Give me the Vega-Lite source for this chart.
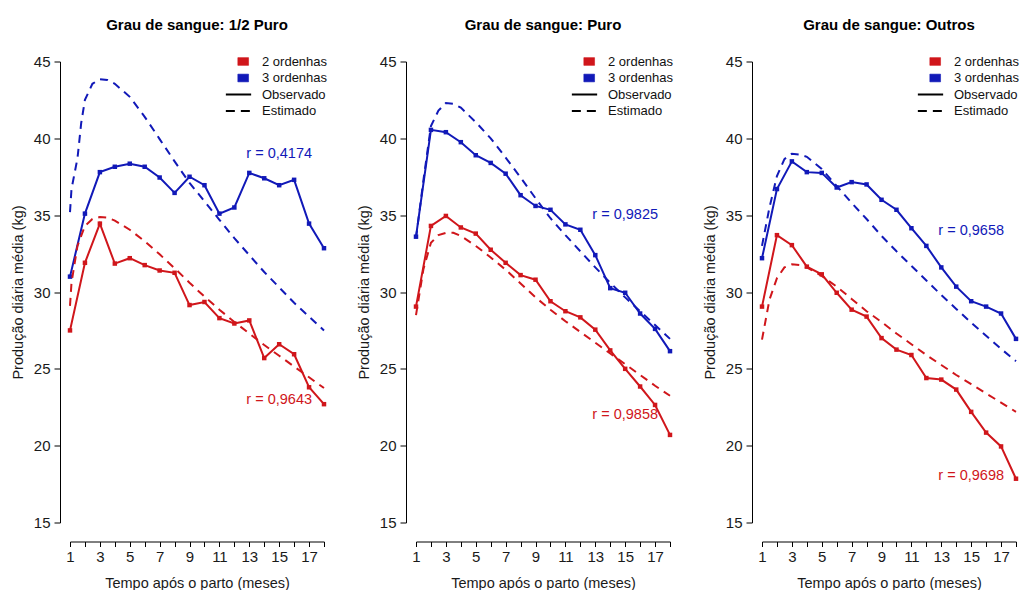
{
  "$schema": "https://vega.github.io/schema/vega-lite/v6.json",
  "background": "white",
  "padding": {"left": 10, "top": 17.5, "right": 0, "bottom": 0},
  "spacing": 92,
  "bounds": "flush",
  "data": {"name": "curvas"},
  "datasets": {
    "curvas": [
      {"grau": "1/2 Puro", "ordenhas": "2 ordenhas", "tipo": "Observado", "mes": 1, "valor": 27.5},
      {"grau": "1/2 Puro", "ordenhas": "2 ordenhas", "tipo": "Observado", "mes": 2, "valor": 31.9},
      {"grau": "1/2 Puro", "ordenhas": "2 ordenhas", "tipo": "Observado", "mes": 3, "valor": 34.45},
      {"grau": "1/2 Puro", "ordenhas": "2 ordenhas", "tipo": "Observado", "mes": 4, "valor": 31.85},
      {"grau": "1/2 Puro", "ordenhas": "2 ordenhas", "tipo": "Observado", "mes": 5, "valor": 32.2},
      {"grau": "1/2 Puro", "ordenhas": "2 ordenhas", "tipo": "Observado", "mes": 6, "valor": 31.75},
      {"grau": "1/2 Puro", "ordenhas": "2 ordenhas", "tipo": "Observado", "mes": 7, "valor": 31.4},
      {"grau": "1/2 Puro", "ordenhas": "2 ordenhas", "tipo": "Observado", "mes": 8, "valor": 31.25},
      {"grau": "1/2 Puro", "ordenhas": "2 ordenhas", "tipo": "Observado", "mes": 9, "valor": 29.15},
      {"grau": "1/2 Puro", "ordenhas": "2 ordenhas", "tipo": "Observado", "mes": 10, "valor": 29.35},
      {"grau": "1/2 Puro", "ordenhas": "2 ordenhas", "tipo": "Observado", "mes": 11, "valor": 28.3},
      {"grau": "1/2 Puro", "ordenhas": "2 ordenhas", "tipo": "Observado", "mes": 12, "valor": 27.95},
      {"grau": "1/2 Puro", "ordenhas": "2 ordenhas", "tipo": "Observado", "mes": 13, "valor": 28.15},
      {"grau": "1/2 Puro", "ordenhas": "2 ordenhas", "tipo": "Observado", "mes": 14, "valor": 25.7},
      {"grau": "1/2 Puro", "ordenhas": "2 ordenhas", "tipo": "Observado", "mes": 15, "valor": 26.6},
      {"grau": "1/2 Puro", "ordenhas": "2 ordenhas", "tipo": "Observado", "mes": 16, "valor": 25.95},
      {"grau": "1/2 Puro", "ordenhas": "2 ordenhas", "tipo": "Observado", "mes": 17, "valor": 23.8},
      {"grau": "1/2 Puro", "ordenhas": "2 ordenhas", "tipo": "Observado", "mes": 18, "valor": 22.7},
      {"grau": "1/2 Puro", "ordenhas": "3 ordenhas", "tipo": "Observado", "mes": 1, "valor": 31.0},
      {"grau": "1/2 Puro", "ordenhas": "3 ordenhas", "tipo": "Observado", "mes": 2, "valor": 35.1},
      {"grau": "1/2 Puro", "ordenhas": "3 ordenhas", "tipo": "Observado", "mes": 3, "valor": 37.8},
      {"grau": "1/2 Puro", "ordenhas": "3 ordenhas", "tipo": "Observado", "mes": 4, "valor": 38.15},
      {"grau": "1/2 Puro", "ordenhas": "3 ordenhas", "tipo": "Observado", "mes": 5, "valor": 38.35},
      {"grau": "1/2 Puro", "ordenhas": "3 ordenhas", "tipo": "Observado", "mes": 6, "valor": 38.15},
      {"grau": "1/2 Puro", "ordenhas": "3 ordenhas", "tipo": "Observado", "mes": 7, "valor": 37.45},
      {"grau": "1/2 Puro", "ordenhas": "3 ordenhas", "tipo": "Observado", "mes": 8, "valor": 36.45},
      {"grau": "1/2 Puro", "ordenhas": "3 ordenhas", "tipo": "Observado", "mes": 9, "valor": 37.5},
      {"grau": "1/2 Puro", "ordenhas": "3 ordenhas", "tipo": "Observado", "mes": 10, "valor": 36.95},
      {"grau": "1/2 Puro", "ordenhas": "3 ordenhas", "tipo": "Observado", "mes": 11, "valor": 35.1},
      {"grau": "1/2 Puro", "ordenhas": "3 ordenhas", "tipo": "Observado", "mes": 12, "valor": 35.5},
      {"grau": "1/2 Puro", "ordenhas": "3 ordenhas", "tipo": "Observado", "mes": 13, "valor": 37.75},
      {"grau": "1/2 Puro", "ordenhas": "3 ordenhas", "tipo": "Observado", "mes": 14, "valor": 37.4},
      {"grau": "1/2 Puro", "ordenhas": "3 ordenhas", "tipo": "Observado", "mes": 15, "valor": 36.95},
      {"grau": "1/2 Puro", "ordenhas": "3 ordenhas", "tipo": "Observado", "mes": 16, "valor": 37.3},
      {"grau": "1/2 Puro", "ordenhas": "3 ordenhas", "tipo": "Observado", "mes": 17, "valor": 34.45},
      {"grau": "1/2 Puro", "ordenhas": "3 ordenhas", "tipo": "Observado", "mes": 18, "valor": 32.85},
      {"grau": "1/2 Puro", "ordenhas": "2 ordenhas", "tipo": "Estimado", "mes": 1, "valor": 29.1},
      {"grau": "1/2 Puro", "ordenhas": "2 ordenhas", "tipo": "Estimado", "mes": 1.1, "valor": 30.6},
      {"grau": "1/2 Puro", "ordenhas": "2 ordenhas", "tipo": "Estimado", "mes": 1.5, "valor": 33.0},
      {"grau": "1/2 Puro", "ordenhas": "2 ordenhas", "tipo": "Estimado", "mes": 2, "valor": 34.3},
      {"grau": "1/2 Puro", "ordenhas": "2 ordenhas", "tipo": "Estimado", "mes": 2.5, "valor": 34.75},
      {"grau": "1/2 Puro", "ordenhas": "2 ordenhas", "tipo": "Estimado", "mes": 3, "valor": 34.88},
      {"grau": "1/2 Puro", "ordenhas": "2 ordenhas", "tipo": "Estimado", "mes": 3.5, "valor": 34.85},
      {"grau": "1/2 Puro", "ordenhas": "2 ordenhas", "tipo": "Estimado", "mes": 4, "valor": 34.65},
      {"grau": "1/2 Puro", "ordenhas": "2 ordenhas", "tipo": "Estimado", "mes": 5, "valor": 34.05},
      {"grau": "1/2 Puro", "ordenhas": "2 ordenhas", "tipo": "Estimado", "mes": 6, "valor": 33.3},
      {"grau": "1/2 Puro", "ordenhas": "2 ordenhas", "tipo": "Estimado", "mes": 7, "valor": 32.45},
      {"grau": "1/2 Puro", "ordenhas": "2 ordenhas", "tipo": "Estimado", "mes": 8, "valor": 31.55},
      {"grau": "1/2 Puro", "ordenhas": "2 ordenhas", "tipo": "Estimado", "mes": 9, "valor": 30.6},
      {"grau": "1/2 Puro", "ordenhas": "2 ordenhas", "tipo": "Estimado", "mes": 10, "valor": 29.7},
      {"grau": "1/2 Puro", "ordenhas": "2 ordenhas", "tipo": "Estimado", "mes": 11, "valor": 28.85},
      {"grau": "1/2 Puro", "ordenhas": "2 ordenhas", "tipo": "Estimado", "mes": 12, "valor": 28.05},
      {"grau": "1/2 Puro", "ordenhas": "2 ordenhas", "tipo": "Estimado", "mes": 13, "valor": 27.3},
      {"grau": "1/2 Puro", "ordenhas": "2 ordenhas", "tipo": "Estimado", "mes": 14, "valor": 26.55},
      {"grau": "1/2 Puro", "ordenhas": "2 ordenhas", "tipo": "Estimado", "mes": 15, "valor": 25.85},
      {"grau": "1/2 Puro", "ordenhas": "2 ordenhas", "tipo": "Estimado", "mes": 16, "valor": 25.15},
      {"grau": "1/2 Puro", "ordenhas": "2 ordenhas", "tipo": "Estimado", "mes": 17, "valor": 24.45},
      {"grau": "1/2 Puro", "ordenhas": "2 ordenhas", "tipo": "Estimado", "mes": 18, "valor": 23.75},
      {"grau": "1/2 Puro", "ordenhas": "3 ordenhas", "tipo": "Estimado", "mes": 1, "valor": 35.2},
      {"grau": "1/2 Puro", "ordenhas": "3 ordenhas", "tipo": "Estimado", "mes": 1.1, "valor": 36.7},
      {"grau": "1/2 Puro", "ordenhas": "3 ordenhas", "tipo": "Estimado", "mes": 1.5, "valor": 38.7},
      {"grau": "1/2 Puro", "ordenhas": "3 ordenhas", "tipo": "Estimado", "mes": 1.75, "valor": 41.0},
      {"grau": "1/2 Puro", "ordenhas": "3 ordenhas", "tipo": "Estimado", "mes": 2, "valor": 42.5},
      {"grau": "1/2 Puro", "ordenhas": "3 ordenhas", "tipo": "Estimado", "mes": 2.5, "valor": 43.55},
      {"grau": "1/2 Puro", "ordenhas": "3 ordenhas", "tipo": "Estimado", "mes": 3, "valor": 43.85},
      {"grau": "1/2 Puro", "ordenhas": "3 ordenhas", "tipo": "Estimado", "mes": 3.5, "valor": 43.8},
      {"grau": "1/2 Puro", "ordenhas": "3 ordenhas", "tipo": "Estimado", "mes": 4, "valor": 43.55},
      {"grau": "1/2 Puro", "ordenhas": "3 ordenhas", "tipo": "Estimado", "mes": 5, "valor": 42.7},
      {"grau": "1/2 Puro", "ordenhas": "3 ordenhas", "tipo": "Estimado", "mes": 6, "valor": 41.4},
      {"grau": "1/2 Puro", "ordenhas": "3 ordenhas", "tipo": "Estimado", "mes": 7, "valor": 39.95},
      {"grau": "1/2 Puro", "ordenhas": "3 ordenhas", "tipo": "Estimado", "mes": 8, "valor": 38.5},
      {"grau": "1/2 Puro", "ordenhas": "3 ordenhas", "tipo": "Estimado", "mes": 9, "valor": 37.1},
      {"grau": "1/2 Puro", "ordenhas": "3 ordenhas", "tipo": "Estimado", "mes": 10, "valor": 35.9},
      {"grau": "1/2 Puro", "ordenhas": "3 ordenhas", "tipo": "Estimado", "mes": 11, "valor": 34.7},
      {"grau": "1/2 Puro", "ordenhas": "3 ordenhas", "tipo": "Estimado", "mes": 12, "valor": 33.5},
      {"grau": "1/2 Puro", "ordenhas": "3 ordenhas", "tipo": "Estimado", "mes": 13, "valor": 32.4},
      {"grau": "1/2 Puro", "ordenhas": "3 ordenhas", "tipo": "Estimado", "mes": 14, "valor": 31.3},
      {"grau": "1/2 Puro", "ordenhas": "3 ordenhas", "tipo": "Estimado", "mes": 15, "valor": 30.3},
      {"grau": "1/2 Puro", "ordenhas": "3 ordenhas", "tipo": "Estimado", "mes": 16, "valor": 29.3},
      {"grau": "1/2 Puro", "ordenhas": "3 ordenhas", "tipo": "Estimado", "mes": 17, "valor": 28.4},
      {"grau": "1/2 Puro", "ordenhas": "3 ordenhas", "tipo": "Estimado", "mes": 18, "valor": 27.5},
      {"grau": "1/2 Puro", "ordenhas": "3 ordenhas", "tipo": "r", "mes": 15, "valor": 39, "rotulo": "r = 0,4174"},
      {"grau": "1/2 Puro", "ordenhas": "2 ordenhas", "tipo": "r", "mes": 15, "valor": 23, "rotulo": "r = 0,9643"},

      {"grau": "Puro", "ordenhas": "2 ordenhas", "tipo": "Observado", "mes": 1, "valor": 29.05},
      {"grau": "Puro", "ordenhas": "2 ordenhas", "tipo": "Observado", "mes": 2, "valor": 34.3},
      {"grau": "Puro", "ordenhas": "2 ordenhas", "tipo": "Observado", "mes": 3, "valor": 34.95},
      {"grau": "Puro", "ordenhas": "2 ordenhas", "tipo": "Observado", "mes": 4, "valor": 34.2},
      {"grau": "Puro", "ordenhas": "2 ordenhas", "tipo": "Observado", "mes": 5, "valor": 33.8},
      {"grau": "Puro", "ordenhas": "2 ordenhas", "tipo": "Observado", "mes": 6, "valor": 32.75},
      {"grau": "Puro", "ordenhas": "2 ordenhas", "tipo": "Observado", "mes": 7, "valor": 31.9},
      {"grau": "Puro", "ordenhas": "2 ordenhas", "tipo": "Observado", "mes": 8, "valor": 31.1},
      {"grau": "Puro", "ordenhas": "2 ordenhas", "tipo": "Observado", "mes": 9, "valor": 30.8},
      {"grau": "Puro", "ordenhas": "2 ordenhas", "tipo": "Observado", "mes": 10, "valor": 29.4},
      {"grau": "Puro", "ordenhas": "2 ordenhas", "tipo": "Observado", "mes": 11, "valor": 28.75},
      {"grau": "Puro", "ordenhas": "2 ordenhas", "tipo": "Observado", "mes": 12, "valor": 28.35},
      {"grau": "Puro", "ordenhas": "2 ordenhas", "tipo": "Observado", "mes": 13, "valor": 27.55},
      {"grau": "Puro", "ordenhas": "2 ordenhas", "tipo": "Observado", "mes": 14, "valor": 26.2},
      {"grau": "Puro", "ordenhas": "2 ordenhas", "tipo": "Observado", "mes": 15, "valor": 25.0},
      {"grau": "Puro", "ordenhas": "2 ordenhas", "tipo": "Observado", "mes": 16, "valor": 23.85},
      {"grau": "Puro", "ordenhas": "2 ordenhas", "tipo": "Observado", "mes": 17, "valor": 22.65},
      {"grau": "Puro", "ordenhas": "2 ordenhas", "tipo": "Observado", "mes": 18, "valor": 20.7},
      {"grau": "Puro", "ordenhas": "3 ordenhas", "tipo": "Observado", "mes": 1, "valor": 33.6},
      {"grau": "Puro", "ordenhas": "3 ordenhas", "tipo": "Observado", "mes": 2, "valor": 40.55},
      {"grau": "Puro", "ordenhas": "3 ordenhas", "tipo": "Observado", "mes": 3, "valor": 40.4},
      {"grau": "Puro", "ordenhas": "3 ordenhas", "tipo": "Observado", "mes": 4, "valor": 39.75},
      {"grau": "Puro", "ordenhas": "3 ordenhas", "tipo": "Observado", "mes": 5, "valor": 38.9},
      {"grau": "Puro", "ordenhas": "3 ordenhas", "tipo": "Observado", "mes": 6, "valor": 38.4},
      {"grau": "Puro", "ordenhas": "3 ordenhas", "tipo": "Observado", "mes": 7, "valor": 37.7},
      {"grau": "Puro", "ordenhas": "3 ordenhas", "tipo": "Observado", "mes": 8, "valor": 36.3},
      {"grau": "Puro", "ordenhas": "3 ordenhas", "tipo": "Observado", "mes": 9, "valor": 35.6},
      {"grau": "Puro", "ordenhas": "3 ordenhas", "tipo": "Observado", "mes": 10, "valor": 35.35},
      {"grau": "Puro", "ordenhas": "3 ordenhas", "tipo": "Observado", "mes": 11, "valor": 34.4},
      {"grau": "Puro", "ordenhas": "3 ordenhas", "tipo": "Observado", "mes": 12, "valor": 34.05},
      {"grau": "Puro", "ordenhas": "3 ordenhas", "tipo": "Observado", "mes": 13, "valor": 32.4},
      {"grau": "Puro", "ordenhas": "3 ordenhas", "tipo": "Observado", "mes": 14, "valor": 30.25},
      {"grau": "Puro", "ordenhas": "3 ordenhas", "tipo": "Observado", "mes": 15, "valor": 29.95},
      {"grau": "Puro", "ordenhas": "3 ordenhas", "tipo": "Observado", "mes": 16, "valor": 28.6},
      {"grau": "Puro", "ordenhas": "3 ordenhas", "tipo": "Observado", "mes": 17, "valor": 27.6},
      {"grau": "Puro", "ordenhas": "3 ordenhas", "tipo": "Observado", "mes": 18, "valor": 26.15},
      {"grau": "Puro", "ordenhas": "2 ordenhas", "tipo": "Estimado", "mes": 1, "valor": 28.5},
      {"grau": "Puro", "ordenhas": "2 ordenhas", "tipo": "Estimado", "mes": 1.5, "valor": 31.5},
      {"grau": "Puro", "ordenhas": "2 ordenhas", "tipo": "Estimado", "mes": 2, "valor": 33.2},
      {"grau": "Puro", "ordenhas": "2 ordenhas", "tipo": "Estimado", "mes": 2.5, "valor": 33.7},
      {"grau": "Puro", "ordenhas": "2 ordenhas", "tipo": "Estimado", "mes": 3, "valor": 33.85},
      {"grau": "Puro", "ordenhas": "2 ordenhas", "tipo": "Estimado", "mes": 3.5, "valor": 33.85},
      {"grau": "Puro", "ordenhas": "2 ordenhas", "tipo": "Estimado", "mes": 4, "valor": 33.65},
      {"grau": "Puro", "ordenhas": "2 ordenhas", "tipo": "Estimado", "mes": 5, "valor": 33.0},
      {"grau": "Puro", "ordenhas": "2 ordenhas", "tipo": "Estimado", "mes": 6, "valor": 32.25},
      {"grau": "Puro", "ordenhas": "2 ordenhas", "tipo": "Estimado", "mes": 7, "valor": 31.45},
      {"grau": "Puro", "ordenhas": "2 ordenhas", "tipo": "Estimado", "mes": 8, "valor": 30.55},
      {"grau": "Puro", "ordenhas": "2 ordenhas", "tipo": "Estimado", "mes": 9, "valor": 29.65},
      {"grau": "Puro", "ordenhas": "2 ordenhas", "tipo": "Estimado", "mes": 10, "valor": 28.85},
      {"grau": "Puro", "ordenhas": "2 ordenhas", "tipo": "Estimado", "mes": 11, "valor": 28.1},
      {"grau": "Puro", "ordenhas": "2 ordenhas", "tipo": "Estimado", "mes": 12, "valor": 27.4},
      {"grau": "Puro", "ordenhas": "2 ordenhas", "tipo": "Estimado", "mes": 13, "valor": 26.7},
      {"grau": "Puro", "ordenhas": "2 ordenhas", "tipo": "Estimado", "mes": 14, "valor": 26.0},
      {"grau": "Puro", "ordenhas": "2 ordenhas", "tipo": "Estimado", "mes": 15, "valor": 25.3},
      {"grau": "Puro", "ordenhas": "2 ordenhas", "tipo": "Estimado", "mes": 16, "valor": 24.6},
      {"grau": "Puro", "ordenhas": "2 ordenhas", "tipo": "Estimado", "mes": 17, "valor": 23.9},
      {"grau": "Puro", "ordenhas": "2 ordenhas", "tipo": "Estimado", "mes": 18, "valor": 23.25},
      {"grau": "Puro", "ordenhas": "3 ordenhas", "tipo": "Estimado", "mes": 1, "valor": 33.5},
      {"grau": "Puro", "ordenhas": "3 ordenhas", "tipo": "Estimado", "mes": 1.5, "valor": 37.3},
      {"grau": "Puro", "ordenhas": "3 ordenhas", "tipo": "Estimado", "mes": 2, "valor": 40.8},
      {"grau": "Puro", "ordenhas": "3 ordenhas", "tipo": "Estimado", "mes": 2.5, "valor": 41.8},
      {"grau": "Puro", "ordenhas": "3 ordenhas", "tipo": "Estimado", "mes": 3, "valor": 42.3},
      {"grau": "Puro", "ordenhas": "3 ordenhas", "tipo": "Estimado", "mes": 3.5, "valor": 42.25},
      {"grau": "Puro", "ordenhas": "3 ordenhas", "tipo": "Estimado", "mes": 4, "valor": 42.0},
      {"grau": "Puro", "ordenhas": "3 ordenhas", "tipo": "Estimado", "mes": 5, "valor": 41.05},
      {"grau": "Puro", "ordenhas": "3 ordenhas", "tipo": "Estimado", "mes": 6, "valor": 40.0},
      {"grau": "Puro", "ordenhas": "3 ordenhas", "tipo": "Estimado", "mes": 7, "valor": 38.75},
      {"grau": "Puro", "ordenhas": "3 ordenhas", "tipo": "Estimado", "mes": 8, "valor": 37.45},
      {"grau": "Puro", "ordenhas": "3 ordenhas", "tipo": "Estimado", "mes": 9, "valor": 36.1},
      {"grau": "Puro", "ordenhas": "3 ordenhas", "tipo": "Estimado", "mes": 10, "valor": 34.8},
      {"grau": "Puro", "ordenhas": "3 ordenhas", "tipo": "Estimado", "mes": 11, "valor": 33.7},
      {"grau": "Puro", "ordenhas": "3 ordenhas", "tipo": "Estimado", "mes": 12, "valor": 32.65},
      {"grau": "Puro", "ordenhas": "3 ordenhas", "tipo": "Estimado", "mes": 13, "valor": 31.6},
      {"grau": "Puro", "ordenhas": "3 ordenhas", "tipo": "Estimado", "mes": 14, "valor": 30.6},
      {"grau": "Puro", "ordenhas": "3 ordenhas", "tipo": "Estimado", "mes": 15, "valor": 29.65},
      {"grau": "Puro", "ordenhas": "3 ordenhas", "tipo": "Estimado", "mes": 16, "valor": 28.75},
      {"grau": "Puro", "ordenhas": "3 ordenhas", "tipo": "Estimado", "mes": 17, "valor": 27.85},
      {"grau": "Puro", "ordenhas": "3 ordenhas", "tipo": "Estimado", "mes": 18, "valor": 26.95},
      {"grau": "Puro", "ordenhas": "3 ordenhas", "tipo": "r", "mes": 15, "valor": 35, "rotulo": "r = 0,9825"},
      {"grau": "Puro", "ordenhas": "2 ordenhas", "tipo": "r", "mes": 15, "valor": 22, "rotulo": "r = 0,9858"},

      {"grau": "Outros", "ordenhas": "2 ordenhas", "tipo": "Observado", "mes": 1, "valor": 29.05},
      {"grau": "Outros", "ordenhas": "2 ordenhas", "tipo": "Observado", "mes": 2, "valor": 33.7},
      {"grau": "Outros", "ordenhas": "2 ordenhas", "tipo": "Observado", "mes": 3, "valor": 33.05},
      {"grau": "Outros", "ordenhas": "2 ordenhas", "tipo": "Observado", "mes": 4, "valor": 31.65},
      {"grau": "Outros", "ordenhas": "2 ordenhas", "tipo": "Observado", "mes": 5, "valor": 31.15},
      {"grau": "Outros", "ordenhas": "2 ordenhas", "tipo": "Observado", "mes": 6, "valor": 29.95},
      {"grau": "Outros", "ordenhas": "2 ordenhas", "tipo": "Observado", "mes": 7, "valor": 28.85},
      {"grau": "Outros", "ordenhas": "2 ordenhas", "tipo": "Observado", "mes": 8, "valor": 28.4},
      {"grau": "Outros", "ordenhas": "2 ordenhas", "tipo": "Observado", "mes": 9, "valor": 27.0},
      {"grau": "Outros", "ordenhas": "2 ordenhas", "tipo": "Observado", "mes": 10, "valor": 26.25},
      {"grau": "Outros", "ordenhas": "2 ordenhas", "tipo": "Observado", "mes": 11, "valor": 25.9},
      {"grau": "Outros", "ordenhas": "2 ordenhas", "tipo": "Observado", "mes": 12, "valor": 24.4},
      {"grau": "Outros", "ordenhas": "2 ordenhas", "tipo": "Observado", "mes": 13, "valor": 24.3},
      {"grau": "Outros", "ordenhas": "2 ordenhas", "tipo": "Observado", "mes": 14, "valor": 23.65},
      {"grau": "Outros", "ordenhas": "2 ordenhas", "tipo": "Observado", "mes": 15, "valor": 22.2},
      {"grau": "Outros", "ordenhas": "2 ordenhas", "tipo": "Observado", "mes": 16, "valor": 20.85},
      {"grau": "Outros", "ordenhas": "2 ordenhas", "tipo": "Observado", "mes": 17, "valor": 19.95},
      {"grau": "Outros", "ordenhas": "2 ordenhas", "tipo": "Observado", "mes": 18, "valor": 17.85},
      {"grau": "Outros", "ordenhas": "3 ordenhas", "tipo": "Observado", "mes": 1, "valor": 32.2},
      {"grau": "Outros", "ordenhas": "3 ordenhas", "tipo": "Observado", "mes": 2, "valor": 36.7},
      {"grau": "Outros", "ordenhas": "3 ordenhas", "tipo": "Observado", "mes": 3, "valor": 38.5},
      {"grau": "Outros", "ordenhas": "3 ordenhas", "tipo": "Observado", "mes": 4, "valor": 37.8},
      {"grau": "Outros", "ordenhas": "3 ordenhas", "tipo": "Observado", "mes": 5, "valor": 37.75},
      {"grau": "Outros", "ordenhas": "3 ordenhas", "tipo": "Observado", "mes": 6, "valor": 36.8},
      {"grau": "Outros", "ordenhas": "3 ordenhas", "tipo": "Observado", "mes": 7, "valor": 37.15},
      {"grau": "Outros", "ordenhas": "3 ordenhas", "tipo": "Observado", "mes": 8, "valor": 37.0},
      {"grau": "Outros", "ordenhas": "3 ordenhas", "tipo": "Observado", "mes": 9, "valor": 36.0},
      {"grau": "Outros", "ordenhas": "3 ordenhas", "tipo": "Observado", "mes": 10, "valor": 35.35},
      {"grau": "Outros", "ordenhas": "3 ordenhas", "tipo": "Observado", "mes": 11, "valor": 34.15},
      {"grau": "Outros", "ordenhas": "3 ordenhas", "tipo": "Observado", "mes": 12, "valor": 33.0},
      {"grau": "Outros", "ordenhas": "3 ordenhas", "tipo": "Observado", "mes": 13, "valor": 31.6},
      {"grau": "Outros", "ordenhas": "3 ordenhas", "tipo": "Observado", "mes": 14, "valor": 30.35},
      {"grau": "Outros", "ordenhas": "3 ordenhas", "tipo": "Observado", "mes": 15, "valor": 29.4},
      {"grau": "Outros", "ordenhas": "3 ordenhas", "tipo": "Observado", "mes": 16, "valor": 29.05},
      {"grau": "Outros", "ordenhas": "3 ordenhas", "tipo": "Observado", "mes": 17, "valor": 28.6},
      {"grau": "Outros", "ordenhas": "3 ordenhas", "tipo": "Observado", "mes": 18, "valor": 26.95},
      {"grau": "Outros", "ordenhas": "2 ordenhas", "tipo": "Estimado", "mes": 1, "valor": 26.9},
      {"grau": "Outros", "ordenhas": "2 ordenhas", "tipo": "Estimado", "mes": 1.5, "valor": 29.5},
      {"grau": "Outros", "ordenhas": "2 ordenhas", "tipo": "Estimado", "mes": 2, "valor": 30.9},
      {"grau": "Outros", "ordenhas": "2 ordenhas", "tipo": "Estimado", "mes": 2.5, "valor": 31.6},
      {"grau": "Outros", "ordenhas": "2 ordenhas", "tipo": "Estimado", "mes": 3, "valor": 31.8},
      {"grau": "Outros", "ordenhas": "2 ordenhas", "tipo": "Estimado", "mes": 3.5, "valor": 31.75},
      {"grau": "Outros", "ordenhas": "2 ordenhas", "tipo": "Estimado", "mes": 4, "valor": 31.6},
      {"grau": "Outros", "ordenhas": "2 ordenhas", "tipo": "Estimado", "mes": 5, "valor": 31.05},
      {"grau": "Outros", "ordenhas": "2 ordenhas", "tipo": "Estimado", "mes": 6, "valor": 30.35},
      {"grau": "Outros", "ordenhas": "2 ordenhas", "tipo": "Estimado", "mes": 7, "valor": 29.55},
      {"grau": "Outros", "ordenhas": "2 ordenhas", "tipo": "Estimado", "mes": 8, "valor": 28.75},
      {"grau": "Outros", "ordenhas": "2 ordenhas", "tipo": "Estimado", "mes": 9, "valor": 28.05},
      {"grau": "Outros", "ordenhas": "2 ordenhas", "tipo": "Estimado", "mes": 10, "valor": 27.3},
      {"grau": "Outros", "ordenhas": "2 ordenhas", "tipo": "Estimado", "mes": 11, "valor": 26.6},
      {"grau": "Outros", "ordenhas": "2 ordenhas", "tipo": "Estimado", "mes": 12, "valor": 25.9},
      {"grau": "Outros", "ordenhas": "2 ordenhas", "tipo": "Estimado", "mes": 13, "valor": 25.25},
      {"grau": "Outros", "ordenhas": "2 ordenhas", "tipo": "Estimado", "mes": 14, "valor": 24.6},
      {"grau": "Outros", "ordenhas": "2 ordenhas", "tipo": "Estimado", "mes": 15, "valor": 24.0},
      {"grau": "Outros", "ordenhas": "2 ordenhas", "tipo": "Estimado", "mes": 16, "valor": 23.4},
      {"grau": "Outros", "ordenhas": "2 ordenhas", "tipo": "Estimado", "mes": 17, "valor": 22.8},
      {"grau": "Outros", "ordenhas": "2 ordenhas", "tipo": "Estimado", "mes": 18, "valor": 22.2},
      {"grau": "Outros", "ordenhas": "3 ordenhas", "tipo": "Estimado", "mes": 1, "valor": 33.0},
      {"grau": "Outros", "ordenhas": "3 ordenhas", "tipo": "Estimado", "mes": 1.5, "valor": 35.5},
      {"grau": "Outros", "ordenhas": "3 ordenhas", "tipo": "Estimado", "mes": 2, "valor": 37.55},
      {"grau": "Outros", "ordenhas": "3 ordenhas", "tipo": "Estimado", "mes": 2.5, "valor": 38.65},
      {"grau": "Outros", "ordenhas": "3 ordenhas", "tipo": "Estimado", "mes": 3, "valor": 39.0},
      {"grau": "Outros", "ordenhas": "3 ordenhas", "tipo": "Estimado", "mes": 3.5, "valor": 38.95},
      {"grau": "Outros", "ordenhas": "3 ordenhas", "tipo": "Estimado", "mes": 4, "valor": 38.8},
      {"grau": "Outros", "ordenhas": "3 ordenhas", "tipo": "Estimado", "mes": 5, "valor": 38.0},
      {"grau": "Outros", "ordenhas": "3 ordenhas", "tipo": "Estimado", "mes": 6, "valor": 36.9},
      {"grau": "Outros", "ordenhas": "3 ordenhas", "tipo": "Estimado", "mes": 7, "valor": 35.8},
      {"grau": "Outros", "ordenhas": "3 ordenhas", "tipo": "Estimado", "mes": 8, "valor": 34.75},
      {"grau": "Outros", "ordenhas": "3 ordenhas", "tipo": "Estimado", "mes": 9, "valor": 33.65},
      {"grau": "Outros", "ordenhas": "3 ordenhas", "tipo": "Estimado", "mes": 10, "valor": 32.65},
      {"grau": "Outros", "ordenhas": "3 ordenhas", "tipo": "Estimado", "mes": 11, "valor": 31.7},
      {"grau": "Outros", "ordenhas": "3 ordenhas", "tipo": "Estimado", "mes": 12, "valor": 30.75},
      {"grau": "Outros", "ordenhas": "3 ordenhas", "tipo": "Estimado", "mes": 13, "valor": 29.8},
      {"grau": "Outros", "ordenhas": "3 ordenhas", "tipo": "Estimado", "mes": 14, "valor": 28.9},
      {"grau": "Outros", "ordenhas": "3 ordenhas", "tipo": "Estimado", "mes": 15, "valor": 28.0},
      {"grau": "Outros", "ordenhas": "3 ordenhas", "tipo": "Estimado", "mes": 16, "valor": 27.15},
      {"grau": "Outros", "ordenhas": "3 ordenhas", "tipo": "Estimado", "mes": 17, "valor": 26.3},
      {"grau": "Outros", "ordenhas": "3 ordenhas", "tipo": "Estimado", "mes": 18, "valor": 25.5},
      {"grau": "Outros", "ordenhas": "3 ordenhas", "tipo": "r", "mes": 15, "valor": 34, "rotulo": "r = 0,9658"},
      {"grau": "Outros", "ordenhas": "2 ordenhas", "tipo": "r", "mes": 15, "valor": 18, "rotulo": "r = 0,9698"}
    ]
  },
  "hconcat": [
    {
      "width": 254,
      "height": 461,
      "title": "Grau de sangue: 1/2 Puro",
      "transform": [{"filter": "datum.grau == '1/2 Puro'"}],
      "encoding": {
        "x": {"field": "mes", "type": "quantitative", "scale": {"domain": [1, 18], "nice": false, "zero": false},
              "axis": {"title": "Tempo após o parto (meses)", "values": [1,2,3,4,5,6,7,8,9,10,11,12,13,14,15,16,17,18], "labelExpr": "datum.value % 2 == 1 ? datum.label : ''", "offset": 19, "tickSize": 5, "labelPadding": 3, "titlePadding": 12, "labelOverlap": false, "labelFlush": false}},
        "y": {"field": "valor", "type": "quantitative", "scale": {"domain": [15, 45], "nice": false, "zero": false},
              "axis": {"title": "Produção diária média (kg)", "values": [15,20,25,30,35,40,45], "offset": 10, "tickSize": 6, "labelPadding": 4, "titlePadding": 8}},
        "color": {"field": "ordenhas", "type": "nominal",
                  "scale": {"domain": ["2 ordenhas", "3 ordenhas", "Observado", "Estimado"], "range": ["#D0161B", "#1119B8", "#000000", "#000000"]},
                  "legend": {
                    "title": null, "orient": "none", "legendX": 162, "legendY": -6.5,
                    "encode": {"symbols": {"update": {
                      "shape": {"signal": "datum.value == 'Observado' || datum.value == 'Estimado' ? 'stroke' : 'M-0.13,-0.77H2.01V0.77H-0.13Z'"},
                      "size": {"signal": "datum.value == 'Observado' || datum.value == 'Estimado' ? 640 : 100"},
                      "fill": {"signal": "datum.value == '2 ordenhas' ? '#E41414' : datum.value == '3 ordenhas' ? '#1414D8' : 'transparent'"},
                      "stroke": {"signal": "datum.value == '2 ordenhas' || datum.value == '3 ordenhas' ? '#333333' : '#000000'"},
                      "strokeWidth": {"signal": "datum.value == '2 ordenhas' || datum.value == '3 ordenhas' ? 0.6 : 2"},
                      "strokeDash": {"signal": "datum.value == 'Estimado' ? [9, 6] : null"},
                      "opacity": {"value": 1}
                    }}}
                  }}
      },
      "layer": [
        {"transform": [{"filter": "datum.tipo == 'Observado'"}], "mark": {"type": "line", "strokeWidth": 2}},
        {"transform": [{"filter": "datum.tipo == 'Observado'"}], "mark": {"type": "point", "shape": "square", "filled": true, "size": 20, "opacity": 1}},
        {"transform": [{"filter": "datum.tipo == 'Estimado'"}], "mark": {"type": "line", "strokeWidth": 2, "strokeDash": [8, 6]}},
        {"transform": [{"filter": "datum.tipo == 'r'"}], "mark": {"type": "text", "fontSize": 14.5, "font": "Liberation Sans"}, "encoding": {"text": {"field": "rotulo"}}}
      ]
    },
    {
      "width": 254,
      "height": 461,
      "title": "Grau de sangue: Puro",
      "transform": [{"filter": "datum.grau == 'Puro'"}],
      "encoding": {
        "x": {"field": "mes", "type": "quantitative", "scale": {"domain": [1, 18], "nice": false, "zero": false},
              "axis": {"title": "Tempo após o parto (meses)", "values": [1,2,3,4,5,6,7,8,9,10,11,12,13,14,15,16,17,18], "labelExpr": "datum.value % 2 == 1 ? datum.label : ''", "offset": 19, "tickSize": 5, "labelPadding": 3, "titlePadding": 12, "labelOverlap": false, "labelFlush": false}},
        "y": {"field": "valor", "type": "quantitative", "scale": {"domain": [15, 45], "nice": false, "zero": false},
              "axis": {"title": "Produção diária média (kg)", "values": [15,20,25,30,35,40,45], "offset": 10, "tickSize": 6, "labelPadding": 4, "titlePadding": 8}},
        "color": {"field": "ordenhas", "type": "nominal",
                  "scale": {"domain": ["2 ordenhas", "3 ordenhas", "Observado", "Estimado"], "range": ["#D0161B", "#1119B8", "#000000", "#000000"]},
                  "legend": {
                    "title": null, "orient": "none", "legendX": 162, "legendY": -6.5,
                    "encode": {"symbols": {"update": {
                      "shape": {"signal": "datum.value == 'Observado' || datum.value == 'Estimado' ? 'stroke' : 'M-0.13,-0.77H2.01V0.77H-0.13Z'"},
                      "size": {"signal": "datum.value == 'Observado' || datum.value == 'Estimado' ? 640 : 100"},
                      "fill": {"signal": "datum.value == '2 ordenhas' ? '#E41414' : datum.value == '3 ordenhas' ? '#1414D8' : 'transparent'"},
                      "stroke": {"signal": "datum.value == '2 ordenhas' || datum.value == '3 ordenhas' ? '#333333' : '#000000'"},
                      "strokeWidth": {"signal": "datum.value == '2 ordenhas' || datum.value == '3 ordenhas' ? 0.6 : 2"},
                      "strokeDash": {"signal": "datum.value == 'Estimado' ? [9, 6] : null"},
                      "opacity": {"value": 1}
                    }}}
                  }}
      },
      "layer": [
        {"transform": [{"filter": "datum.tipo == 'Observado'"}], "mark": {"type": "line", "strokeWidth": 2}},
        {"transform": [{"filter": "datum.tipo == 'Observado'"}], "mark": {"type": "point", "shape": "square", "filled": true, "size": 20, "opacity": 1}},
        {"transform": [{"filter": "datum.tipo == 'Estimado'"}], "mark": {"type": "line", "strokeWidth": 2, "strokeDash": [8, 6]}},
        {"transform": [{"filter": "datum.tipo == 'r'"}], "mark": {"type": "text", "fontSize": 14.5, "font": "Liberation Sans"}, "encoding": {"text": {"field": "rotulo"}}}
      ]
    },
    {
      "width": 254,
      "height": 461,
      "title": "Grau de sangue: Outros",
      "transform": [{"filter": "datum.grau == 'Outros'"}],
      "encoding": {
        "x": {"field": "mes", "type": "quantitative", "scale": {"domain": [1, 18], "nice": false, "zero": false},
              "axis": {"title": "Tempo após o parto (meses)", "values": [1,2,3,4,5,6,7,8,9,10,11,12,13,14,15,16,17,18], "labelExpr": "datum.value % 2 == 1 ? datum.label : ''", "offset": 19, "tickSize": 5, "labelPadding": 3, "titlePadding": 12, "labelOverlap": false, "labelFlush": false}},
        "y": {"field": "valor", "type": "quantitative", "scale": {"domain": [15, 45], "nice": false, "zero": false},
              "axis": {"title": "Produção diária média (kg)", "values": [15,20,25,30,35,40,45], "offset": 10, "tickSize": 6, "labelPadding": 4, "titlePadding": 8}},
        "color": {"field": "ordenhas", "type": "nominal",
                  "scale": {"domain": ["2 ordenhas", "3 ordenhas", "Observado", "Estimado"], "range": ["#D0161B", "#1119B8", "#000000", "#000000"]},
                  "legend": {
                    "title": null, "orient": "none", "legendX": 162, "legendY": -6.5,
                    "encode": {"symbols": {"update": {
                      "shape": {"signal": "datum.value == 'Observado' || datum.value == 'Estimado' ? 'stroke' : 'M-0.13,-0.77H2.01V0.77H-0.13Z'"},
                      "size": {"signal": "datum.value == 'Observado' || datum.value == 'Estimado' ? 640 : 100"},
                      "fill": {"signal": "datum.value == '2 ordenhas' ? '#E41414' : datum.value == '3 ordenhas' ? '#1414D8' : 'transparent'"},
                      "stroke": {"signal": "datum.value == '2 ordenhas' || datum.value == '3 ordenhas' ? '#333333' : '#000000'"},
                      "strokeWidth": {"signal": "datum.value == '2 ordenhas' || datum.value == '3 ordenhas' ? 0.6 : 2"},
                      "strokeDash": {"signal": "datum.value == 'Estimado' ? [9, 6] : null"},
                      "opacity": {"value": 1}
                    }}}
                  }}
      },
      "layer": [
        {"transform": [{"filter": "datum.tipo == 'Observado'"}], "mark": {"type": "line", "strokeWidth": 2}},
        {"transform": [{"filter": "datum.tipo == 'Observado'"}], "mark": {"type": "point", "shape": "square", "filled": true, "size": 20, "opacity": 1}},
        {"transform": [{"filter": "datum.tipo == 'Estimado'"}], "mark": {"type": "line", "strokeWidth": 2, "strokeDash": [8, 6]}},
        {"transform": [{"filter": "datum.tipo == 'r'"}], "mark": {"type": "text", "fontSize": 14.5, "font": "Liberation Sans"}, "encoding": {"text": {"field": "rotulo"}}}
      ]
    }
  ],
  "resolve": {"scale": {"color": "independent"}, "legend": {"color": "independent"}},
  "config": {
    "view": {"stroke": null},
    "font": "Liberation Sans",
    "axis": {"grid": false, "domainColor": "#000000", "tickColor": "#000000", "labelColor": "#1a1a1a", "titleColor": "#1a1a1a",
             "labelFont": "Liberation Sans", "titleFont": "Liberation Sans", "labelFontSize": 15, "titleFontSize": 14.5, "titleFontWeight": "normal",
             "domainWidth": 1, "tickWidth": 1},
    "title": {"font": "Liberation Sans", "fontSize": 15, "fontWeight": "bold", "anchor": "middle", "frame": "group", "offset": 22, "color": "#000000"},
    "legend": {"padding": 0, "labelFont": "Liberation Sans", "labelFontSize": 13, "labelColor": "#111111", "symbolSize": 100, "labelOffset": 17, "rowPadding": 2.5, "symbolStrokeWidth": 1}
  }
}
